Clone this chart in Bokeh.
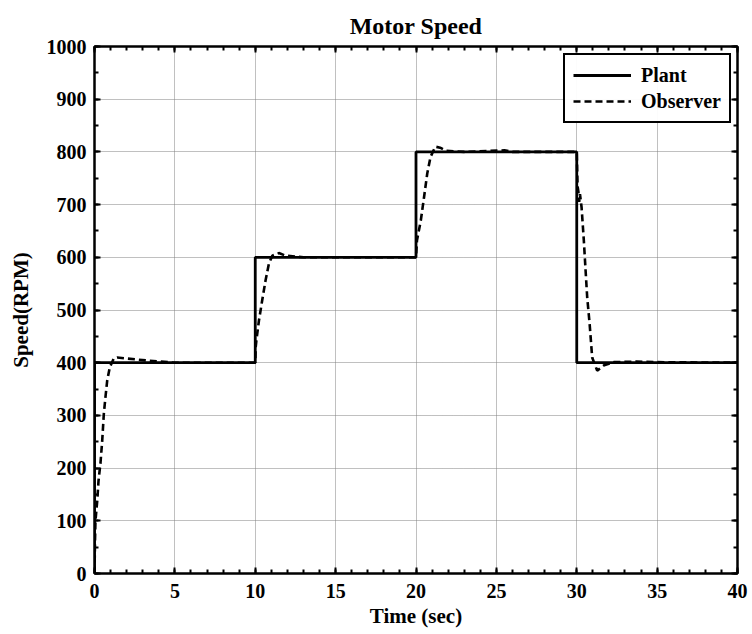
from bokeh.plotting import figure
from bokeh.models import LinearAxis, Range1d, FixedTicker, Legend, LegendItem
from bokeh.embed import file_html
from bokeh.resources import INLINE

# ---- data ----
x_major_ticks = [0, 5, 10, 15, 20, 25, 30, 35, 40]
x_minor_ticks = list(range(0, 41))
y_major_ticks = [0, 100, 200, 300, 400, 500, 600, 700, 800, 900, 1000]
y_minor_ticks = list(range(0, 1001, 50))

plant_t = [0, 0, 10, 20, 30, 40]
plant_rpm = [0, 400, 600, 800, 400, 400]

observer_t = [0, 0.03, 0.06, 0.17, 0.25, 0.37, 0.48, 0.58, 0.68, 0.79, 0.95, 1.2, 1.41, 2.0, 3.3, 5.0, 10.0,
              10.03, 10.08, 10.23, 10.43, 10.64, 10.85, 11.06, 11.47, 11.9, 13.0, 20.0,
              20.06, 20.3, 20.5, 20.7, 20.9, 21.2, 21.5, 21.9, 23.0, 25.5, 26.0, 30.0,
              30.05, 30.1, 30.15, 30.2, 30.3, 30.44, 30.55, 30.65, 30.8, 30.96, 31.27, 31.7, 32.3, 33.7, 35.0, 40.0]
observer_rpm = [0, 60, 100, 138, 176, 209, 252, 303, 334, 366, 391, 408, 410, 408, 404, 400, 400,
                430, 445, 480, 518, 556, 588, 603, 608, 603, 600, 600,
                632, 670, 714, 759, 790, 810, 808, 802, 800, 803, 800, 800,
                735, 725, 705, 720, 695, 632, 575, 524, 474, 410, 385, 395, 401, 402, 401, 400]

FONT = "Liberation Serif"

p = figure(width=748, height=630, x_range=Range1d(0, 40), y_range=Range1d(0, 1000),
           output_backend="svg", toolbar_location=None,
           min_border_left=94, min_border_right=11, min_border_top=46, min_border_bottom=57)

p.title.text = "Motor Speed"
p.title.align = "center"
p.title.text_font = FONT
p.title.text_font_style = "bold"
p.title.text_font_size = "24px"
p.title.text_color = "black"
p.title.standoff = 15

p.outline_line_color = "black"
p.outline_line_width = 2
p.outline_line_alpha = 1

xt = FixedTicker(ticks=x_major_ticks, minor_ticks=x_minor_ticks)
yt = FixedTicker(ticks=y_major_ticks, minor_ticks=y_minor_ticks)

def style_axis(ax, labels=True):
    ax.axis_line_color = "black"
    ax.axis_line_width = 2
    ax.major_tick_in = 6
    ax.major_tick_out = 0
    ax.minor_tick_in = 4
    ax.minor_tick_out = 0
    ax.major_tick_line_color = "black"
    ax.major_tick_line_width = 2
    ax.minor_tick_line_color = "black"
    ax.minor_tick_line_width = 2
    ax.major_label_text_font = FONT
    ax.major_label_text_font_style = "bold"
    if labels:
        ax.major_label_text_font_size = "20px"
        ax.major_label_text_color = "black"
    else:
        ax.major_label_text_font_size = "0px"
        ax.major_label_text_color = None
        ax.major_label_standoff = 0

p.xaxis.ticker = xt
p.yaxis.ticker = yt
style_axis(p.xaxis[0])
style_axis(p.yaxis[0])
p.xaxis.major_label_standoff = 10
p.yaxis.major_label_standoff = 8
p.xaxis.axis_label = "Time (sec)"
p.yaxis.axis_label = "Speed(RPM)"
for ax in (p.xaxis[0], p.yaxis[0]):
    ax.axis_label_text_font = FONT
    ax.axis_label_text_font_style = "bold"
    ax.axis_label_text_font_size = "21px"
    ax.axis_label_text_color = "black"
p.xaxis.axis_label_standoff = 3
p.yaxis.axis_label_standoff = 11

top_ax = LinearAxis(ticker=xt)
right_ax = LinearAxis(ticker=yt)
style_axis(top_ax, labels=False)
style_axis(right_ax, labels=False)
p.add_layout(top_ax, "above")
p.add_layout(right_ax, "right")

p.xgrid.ticker = xt
p.ygrid.ticker = yt
for g in (p.xgrid[0], p.ygrid[0]):
    g.grid_line_color = "#808080"
    g.grid_line_dash = "1 1"
    g.grid_line_width = 1

r_plant = p.step(plant_t, plant_rpm, mode="after", line_color="black", line_width=2.8)
r_obs = p.line(observer_t, observer_rpm, line_color="black", line_width=2.6, line_dash="7 4")

legend = Legend(items=[LegendItem(label="Plant", renderers=[r_plant]),
                       LegendItem(label="Observer", renderers=[r_obs])],
                location=(469, 450))
legend.border_line_color = "black"
legend.border_line_width = 2
legend.border_line_alpha = 1
legend.label_text_font = FONT
legend.label_text_font_style = "bold"
legend.label_text_font_size = "20px"
legend.label_text_color = "black"
legend.glyph_width = 58
legend.glyph_height = 24
legend.label_height = 24
legend.label_standoff = 10
legend.spacing = 2
legend.padding = 8
legend.margin = 0
p.add_layout(legend)

open("out.html", "w").write(file_html(p, INLINE))
